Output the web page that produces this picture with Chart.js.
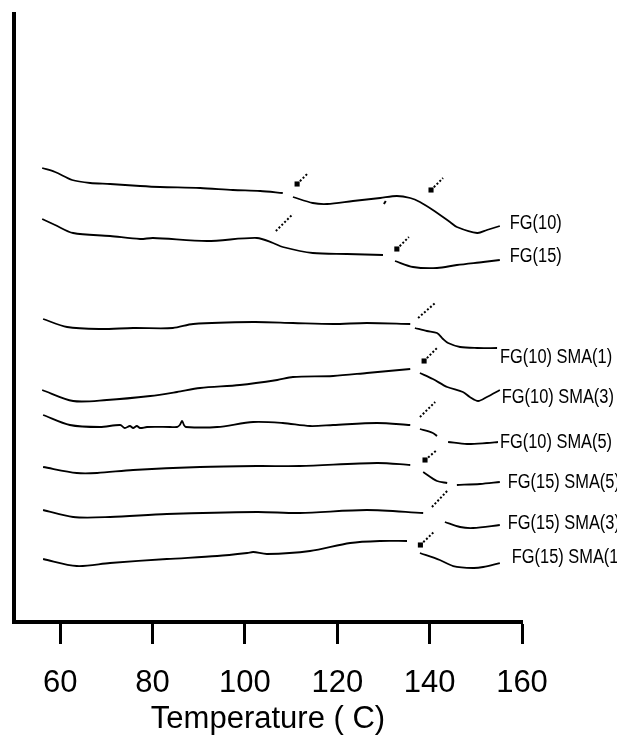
<!DOCTYPE html>
<html>
<head>
<meta charset="utf-8">
<script src="https://cdn.jsdelivr.net/npm/chart.js@4.4.1/dist/chart.umd.min.js"></script>
<style>
  html, body { margin: 0; padding: 0; background: #fff; }
  #wrap { width: 617px; height: 738px; position: relative; }
</style>
</head>
<body>
<div id="wrap"><canvas id="dsc"></canvas></div>
<script>
// Temperature ticks (°C)
const tickTemps = [60, 80, 100, 120, 140, 160];

// DSC traces: temperature (°C) and heat-flow signal (arbitrary units, offset per sample).
// A null signal value marks a break in the trace.
const fg10T = [56.1, 58.9, 62.6, 66.5, 70.8, 77.3, 81.6, 90.3, 97.4, 103.3, 108.2, 109.3, 110.4, 114.7, 117.8, 123.4, 129.3, 132.9, 135.8, 137.9, 140.7, 144.4, 145.9, 150.3, 152.4, 155.2];
const fg10V = [90.8, 90.0, 88.4, 87.8, 87.6, 87.2, 87.0, 86.8, 86.4, 86.2, 85.8, null, 85.0, 83.8, 83.6, 84.2, 84.8, 85.2, 84.8, 84.0, 82.4, 80.0, 79.0, 77.8, 78.4, 79.2];

const fg15T = [56.1, 58.9, 62.8, 70.8, 77.3, 80.1, 91.8, 102.6, 106.1, 108.2, 114.7, 122.1, 129.9, 131.2, 132.5, 136.4, 141.6, 145.9, 151.6, 155.2];
const fg15V = [80.6, 79.4, 77.8, 77.2, 76.6, 76.8, 76.2, 76.8, 75.8, 75.0, 73.8, 73.6, 73.4, null, 72.2, 71.0, 70.8, 71.4, 72.0, 72.4];

const fg10sma1T = [56.3, 61.5, 68.6, 75.8, 84.4, 88.8, 101.8, 110.4, 119.1, 126.4, 135.8, 136.3, 136.8, 139.4, 141.6, 142.9, 144.0, 146.6, 150.3, 154.6];
const fg10sma1V = [60.6, 59.0, 58.6, 58.8, 58.8, 59.6, 60.0, 59.8, 59.6, 59.8, 59.6, null, 58.8, 58.2, 57.8, 56.6, 55.8, 55.0, 54.8, 54.8];

const fg10sma3T = [56.1, 62.8, 70.1, 79.5, 85.3, 90.3, 98.9, 107.0, 110.4, 119.1, 126.4, 135.8, 136.9, 137.9, 140.7, 143.8, 147.2, 148.7, 150.5, 152.4, 155.2];
const fg10sma3V = [46.4, 44.2, 44.4, 45.2, 46.0, 46.8, 47.4, 48.4, 49.0, 49.2, 49.8, 50.6, null, 49.8, 48.6, 47.0, 46.0, 45.0, 44.2, 45.0, 46.4];

const fg10sma5T = [56.3, 62.1, 68.6, 73.0, 74.0, 75.1, 75.8, 76.6, 77.3, 78.8, 83.8, 85.3, 85.9, 86.4, 86.8, 87.2, 94.0, 101.8, 108.2, 114.1, 119.1, 128.6, 135.8, 136.9, 137.9, 140.7, 141.6, 142.8, 144.0, 148.1, 152.4, 154.8];
const fg10sma5V = [41.4, 39.4, 39.0, 39.4, 38.8, 39.2, 38.8, 39.2, 38.8, 39.0, 39.0, 39.0, 39.4, 40.2, 39.4, 39.0, 39.0, 40.0, 39.8, 39.2, 39.4, 39.8, 39.4, null, 38.6, 37.8, 37.2, null, 36.0, 35.6, 35.8, 36.0];

const fg15sma5T = [56.3, 63.6, 68.0, 75.8, 90.3, 102.6, 111.9, 128.6, 135.8, 137.2, 138.6, 141.6, 143.8, 144.8, 145.9, 150.9, 155.2];
const fg15sma5V = [31.0, 29.8, 29.8, 30.4, 31.0, 31.2, 31.2, 31.8, 31.4, null, 30.0, 28.2, 27.8, null, 27.4, 27.6, 28.0];

const fg15sma3T = [56.3, 62.8, 70.8, 83.1, 102.6, 111.9, 126.4, 138.6, 141.0, 143.3, 146.6, 149.4, 155.2];
const fg15sma3V = [22.4, 21.0, 21.0, 21.6, 22.0, 21.8, 22.4, 21.8, null, 20.0, 19.0, 18.8, 19.4];

const fg15sma1T = [56.3, 63.6, 70.8, 83.1, 94.0, 100.5, 101.8, 104.8, 114.1, 122.8, 129.3, 135.1, 136.5, 137.9, 142.2, 145.1, 149.4, 151.6, 155.2];
const fg15sma1V = [12.6, 11.2, 11.8, 12.6, 13.2, 13.8, 14.0, 13.6, 14.2, 15.8, 16.2, 16.2, null, 13.8, 12.4, 11.2, 10.8, 11.0, 11.8];

const sampleNames = ['FG(10)', 'FG(15)', 'FG(10) SMA(1)', 'FG(10) SMA(3)', 'FG(10) SMA(5)', 'FG(15) SMA(5)', 'FG(15) SMA(3)', 'FG(15) SMA(1'];

// Transition markers: start/end temperature and signal of each dotted tangent stroke;
// markSquare = 1 when the stroke starts with a filled square.
const markT1 = [111.3, 140.3, 106.7, 132.9, 137.5, 138.8, 137.9, 139.0, 140.5, 138.0, 130.1];
const markT2 = [113.7, 142.9, 110.4, 135.5, 141.2, 141.6, 141.2, 141.6, 144.0, 140.9, 130.5];
const markV1 = [87.6, 86.4, 78.2, 74.6, 60.8, 52.2, 41.0, 32.4, 23.0, 15.4, 83.6];
const markV2 = [89.8, 88.8, 81.6, 77.0, 63.8, 54.8, 44.0, 34.4, 26.4, 18.0, 84.2];
const markSquare = [1, 1, 0, 1, 0, 1, 0, 1, 0, 1, 0];

const traces = [
  [fg10T, fg10V], [fg15T, fg15V], [fg10sma1T, fg10sma1V], [fg10sma3T, fg10sma3V],
  [fg10sma5T, fg10sma5V], [fg15sma5T, fg15sma5V], [fg15sma3T, fg15sma3V], [fg15sma1T, fg15sma1V]
];
// label placement relative to the end of each trace (px)
const labelNudge = [[10, -3], [10, -4], [3, 9], [2, 7], [2, 0], [8, 0], [8, -2], [12, -6]];

const toPoints = (ts, vs) => ts.map((t, i) => ({ x: t, y: vs[i] }));

const datasets = traces.map(([ts, vs], i) => ({
  label: sampleNames[i],
  data: toPoints(ts, vs),
  borderColor: '#000',
  borderWidth: 1.8,
  pointRadius: 0,
  tension: 0.3,
  spanGaps: false,
  fill: false,
  isTrace: true,
  nudge: labelNudge[i]
}));

markT1.forEach((t, i) => {
  datasets.push({
    label: 'marker' + i,
    data: [{ x: t, y: markV1[i] }, { x: markT2[i], y: markV2[i] }],
    borderColor: '#000',
    borderWidth: 2,
    borderDash: i === 10 ? [] : [2, 2],
    pointStyle: 'rect',
    pointRadius: markSquare[i] ? [3.6, 0] : 0,
    pointBackgroundColor: '#000',
    pointBorderWidth: 0,
    tension: 0,
    fill: false
  });
});

// draws sample names next to the end of each trace
const traceLabels = {
  id: 'traceLabels',
  afterDatasetsDraw(chart) {
    const ctx = chart.ctx;
    ctx.save();
    ctx.fillStyle = '#000';
    ctx.font = '20px "Liberation Sans", Arial, sans-serif';
    ctx.textBaseline = 'middle';
    ctx.textAlign = 'left';
    chart.data.datasets.forEach((ds, i) => {
      if (!ds.isTrace) return;
      const pts = chart.getDatasetMeta(i).data;
      const last = pts[pts.length - 1];
      const x = last.x + ds.nudge[0];
      const y = last.y + ds.nudge[1];
      ctx.save();
      ctx.translate(x, y);
      ctx.scale(0.82, 1);
      ctx.fillText(ds.label, 0, 0);
      ctx.restore();
    });
    ctx.restore();
  }
};

new Chart(document.getElementById('dsc'), {
  type: 'line',
  data: { datasets },
  plugins: [traceLabels],
  options: {
    responsive: true,
    maintainAspectRatio: false,
    animation: false,
    devicePixelRatio: 1,
    layout: { padding: { left: 14, right: 95, top: 14, bottom: 0 } },
    plugins: { legend: { display: false }, tooltip: { enabled: false } },
    scales: {
      x: {
        type: 'linear',
        min: 50,
        max: 160,
        afterBuildTicks: s => { s.ticks = tickTemps.map(v => ({ value: v })); },
        afterFit: s => { s.height = 116; },
        grid: { display: true, drawOnChartArea: false, drawTicks: true, tickLength: 22, tickWidth: 3, tickColor: '#000' },
        border: { display: true, width: 4, color: '#000' },
        ticks: { color: '#000', font: { family: '"Liberation Sans", Arial, sans-serif', size: 31 }, padding: 21, maxRotation: 0, autoSkip: false },
        title: { display: true, text: 'Temperature ( C)', color: '#000', font: { family: '"Liberation Sans", Arial, sans-serif', size: 31 }, padding: { top: 0, bottom: 0 } }
      },
      y: {
        type: 'linear',
        min: 0,
        max: 121.6,
        afterFit: s => { s.width = 0; },
        grid: { display: false, drawTicks: false },
        border: { display: true, width: 4, color: '#000' },
        ticks: { display: false }
      }
    }
  }
});
</script>
</body>
</html>
